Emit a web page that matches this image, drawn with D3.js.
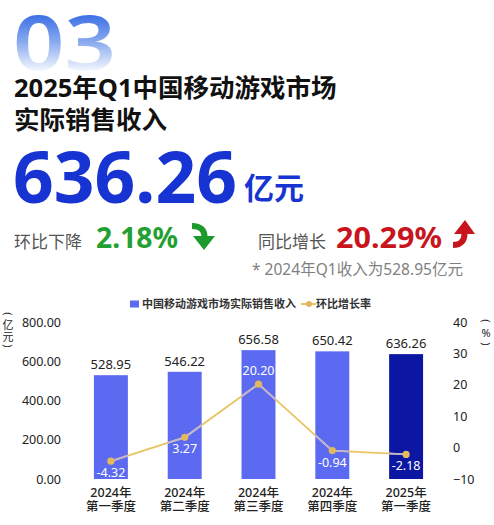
<!DOCTYPE html>
<html lang="zh">
<head>
<meta charset="utf-8">
<style>
  html, body { margin: 0; padding: 0; background: #fff; }
  svg { display: block; font-family: "Noto Sans", "Noto Sans CJK SC", sans-serif; }
</style>
</head>
<body>
<script src="https://d3js.org/d3.v7.min.js"></script>
<script>
// data
var quarters = ['2024年|第一季度', '2024年|第二季度', '2024年|第三季度', '2024年|第四季度', '2025年|第一季度'];
var revenue = [528.95, 546.22, 656.58, 650.42, 636.26];
var qoq = [-4.32, 3.27, 20.20, -0.94, -2.18];
var leftTicks = [0, 200, 400, 600, 800];
var rightTicks = [-10, 0, 10, 20, 30, 40];
var seriesNames = ['中国移动游戏市场实际销售收入', '环比增长率'];

var W = 494, H = 525;
var barColor = '#5c69f1', lastColor = '#0b16a2', lineColor = '#e8c462';
var font = '"Noto Sans", "Noto Sans CJK SC", sans-serif';

var svg = d3.select('body').append('svg')
    .attr('width', W)
    .attr('height', H);

var defs = svg.append('defs');
var grad = defs.append('linearGradient')
    .attr('id', 'fade')
    .attr('gradientUnits', 'userSpaceOnUse')
    .attr('x1', 0).attr('y1', 14).attr('x2', 0).attr('y2', 74);
grad.append('stop').attr('offset', 0).attr('stop-color', '#3a6ee4');
grad.append('stop').attr('offset', 0.45).attr('stop-color', '#86a8ef');
grad.append('stop').attr('offset', 1).attr('stop-color', '#ffffff');

// header
svg.append('text')
    .attr('x', 13).attr('y', 70)
    .attr('font-size', 76).attr('font-weight', 600)
    .attr('textLength', 103).attr('lengthAdjust', 'spacingAndGlyphs')
    .attr('fill', 'url(#fade)')
    .text('03');

svg.append('text')
    .attr('x', 14).attr('y', 97)
    .attr('font-size', 25.5).attr('font-weight', 700).attr('fill', '#111')
    .text('2025年Q1中国移动游戏市场');
svg.append('text')
    .attr('x', 14).attr('y', 129)
    .attr('font-size', 25.5).attr('font-weight', 700).attr('fill', '#111')
    .text('实际销售收入');

svg.append('text')
    .attr('x', 13).attr('y', 203)
    .attr('font-size', 72).attr('font-weight', 700).attr('fill', '#1734d2')
    .attr('textLength', 224).attr('lengthAdjust', 'spacingAndGlyphs')
    .text('636.26');
svg.append('text')
    .attr('x', 244).attr('y', 199)
    .attr('font-size', 30).attr('font-weight', 700).attr('fill', '#1734d2')
    .text('亿元');

svg.append('text')
    .attr('x', 14).attr('y', 248)
    .attr('font-size', 17).attr('fill', '#555')
    .text('环比下降');
svg.append('text')
    .attr('x', 96).attr('y', 248)
    .attr('font-size', 29).attr('font-weight', 700).attr('fill', '#24a033')
    .attr('textLength', 82).attr('lengthAdjust', 'spacingAndGlyphs')
    .text('2.18%');
// green arrow
svg.append('path')
    .attr('d', 'M192,226 Q205,226 204.5,238')
    .attr('fill', 'none').attr('stroke', '#1c9a2c').attr('stroke-width', 6);
svg.append('path')
    .attr('d', 'M193,236 L215,236 L204,250 Z')
    .attr('fill', '#1c9a2c');

svg.append('text')
    .attr('x', 258).attr('y', 248)
    .attr('font-size', 17).attr('fill', '#555')
    .text('同比增长');
svg.append('text')
    .attr('x', 336).attr('y', 248)
    .attr('font-size', 29).attr('font-weight', 700).attr('fill', '#c8151d')
    .attr('textLength', 106).attr('lengthAdjust', 'spacingAndGlyphs')
    .text('20.29%');
// red arrow
svg.append('path')
    .attr('d', 'M453,245 Q465,245 464.5,232')
    .attr('fill', 'none').attr('stroke', '#c8151d').attr('stroke-width', 6);
svg.append('path')
    .attr('d', 'M454,234 L475,234 L465,220 Z')
    .attr('fill', '#c8151d');

svg.append('text')
    .attr('x', 252).attr('y', 275)
    .attr('font-size', 15.5).attr('fill', '#808080')
    .attr('textLength', 211).attr('lengthAdjust', 'spacingAndGlyphs')
    .text('* 2024年Q1收入为528.95亿元');

// chart
var x = d3.scaleBand()
    .domain(quarters)
    .range([74, 443])
    .paddingInner(0.54)
    .paddingOuter(0.27);
var yL = d3.scaleLinear().domain([0, 800]).range([479, 322]);
var yR = d3.scaleLinear().domain([-10, 40]).range([479, 322]);

// legend
var leg = svg.append('g').attr('font-size', 11).attr('font-weight', 600).attr('fill', '#333');
leg.append('rect').attr('x', 130).attr('y', 300.5).attr('width', 9).attr('height', 7).attr('fill', barColor);
leg.append('text').attr('x', 142).attr('y', 308).text(seriesNames[0]);
leg.append('line').attr('x1', 301).attr('x2', 316).attr('y1', 304).attr('y2', 304)
    .attr('stroke', lineColor).attr('stroke-width', 2);
leg.append('circle').attr('cx', 309).attr('cy', 304).attr('r', 3).attr('fill', '#e0b85a');
leg.append('text').attr('x', 316).attr('y', 308).text(seriesNames[1]);

// axes
var axL = svg.append('g')
    .attr('transform', 'translate(61,0)')
    .call(d3.axisLeft(yL).tickValues(leftTicks).tickFormat(d3.format('.2f')).tickSize(0).tickPadding(0));
var axR = svg.append('g')
    .attr('transform', 'translate(453,0)')
    .call(d3.axisRight(yR).tickValues(rightTicks).tickSize(0).tickPadding(0));
[axL, axR].forEach(function(a) {
  a.select('.domain').remove();
  a.selectAll('text').attr('font-size', 12.5).attr('fill', '#222').attr('font-family', font);
});

// vertical unit labels
var unitL = svg.append('g').attr('font-size', 11).attr('fill', '#222').attr('text-anchor', 'middle');
unitL.append('text').attr('transform', 'translate(8,314) rotate(90)').attr('dy', '0.35em').text('(');
unitL.append('text').attr('x', 8).attr('y', 329).text('亿');
unitL.append('text').attr('x', 8).attr('y', 341).text('元');
unitL.append('text').attr('transform', 'translate(8,346) rotate(90)').attr('dy', '0.35em').text(')');

var unitR = svg.append('g').attr('font-size', 11).attr('fill', '#222').attr('text-anchor', 'middle');
unitR.append('text').attr('transform', 'translate(486,321) rotate(90)').attr('dy', '0.35em').text('(');
unitR.append('text').attr('x', 486).attr('y', 337).text('%');
unitR.append('text').attr('transform', 'translate(486,344) rotate(90)').attr('dy', '0.35em').text(')');

// bars
svg.append('g').selectAll('rect')
    .data(revenue)
    .enter().append('rect')
    .attr('x', (d, i) => x(quarters[i]))
    .attr('y', d => yL(d))
    .attr('width', x.bandwidth())
    .attr('height', d => yL(0) - yL(d))
    .attr('fill', (d, i) => i === revenue.length - 1 ? lastColor : barColor);

defs.append('clipPath').attr('id', 'barclip')
    .selectAll('rect').data(revenue).enter().append('rect')
    .attr('x', (d, i) => x(quarters[i]))
    .attr('y', d => yL(d))
    .attr('width', x.bandwidth())
    .attr('height', d => yL(0) - yL(d));

svg.append('g').selectAll('text')
    .data(revenue)
    .enter().append('text')
    .attr('x', (d, i) => x(quarters[i]) + x.bandwidth() / 2)
    .attr('y', d => yL(d) - 6)
    .attr('text-anchor', 'middle')
    .attr('font-size', 13).attr('fill', '#222')
    .text(d => d.toFixed(2));

// line
var line = d3.line()
    .x((d, i) => x(quarters[i]) + x.bandwidth() / 2)
    .y(d => yR(d));
svg.append('path')
    .attr('d', line(qoq))
    .attr('fill', 'none').attr('stroke', lineColor).attr('stroke-width', 1.8);
svg.append('path')
    .attr('d', line(qoq))
    .attr('clip-path', 'url(#barclip)')
    .attr('fill', 'none').attr('stroke', '#c0b4d6').attr('stroke-width', 1.8);
svg.append('g').selectAll('circle')
    .data(qoq)
    .enter().append('circle')
    .attr('cx', (d, i) => x(quarters[i]) + x.bandwidth() / 2)
    .attr('cy', d => yR(d))
    .attr('r', 3.6)
    .attr('fill', '#e2b95c');

svg.append('g').selectAll('text')
    .data(qoq)
    .enter().append('text')
    .attr('x', (d, i) => x(quarters[i]) + x.bandwidth() / 2)
    .attr('y', (d, i) => i === 2 ? yR(d) - 9 : yR(d) + 16)
    .attr('text-anchor', 'middle')
    .attr('font-size', 12.5).attr('fill', '#fff')
    .text(d => d.toFixed(2));

// category labels
var cat = svg.append('g').selectAll('text')
    .data(quarters)
    .enter().append('text')
    .attr('text-anchor', 'middle')
    .attr('font-size', 12.5).attr('font-weight', 500).attr('fill', '#222');
cat.append('tspan')
    .attr('x', d => x(d) + x.bandwidth() / 2)
    .attr('y', 497)
    .text(d => d.split('|')[0]);
cat.append('tspan')
    .attr('x', d => x(d) + x.bandwidth() / 2)
    .attr('y', 511)
    .text(d => d.split('|')[1]);
</script>
</body>
</html>
